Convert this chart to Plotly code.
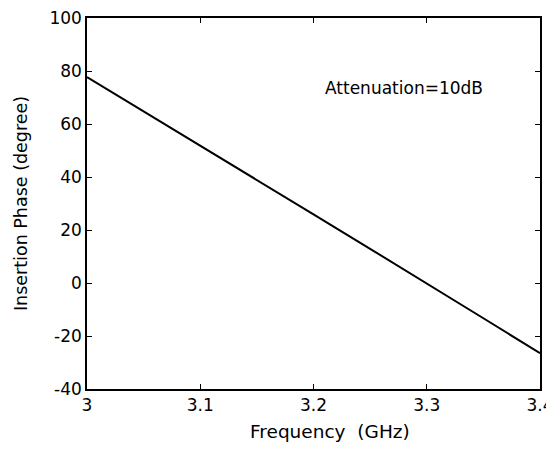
import plotly.graph_objects as go

freq = [3.00, 3.05, 3.10, 3.15, 3.20, 3.25, 3.30, 3.35, 3.40]
phase = [77.7, 64.8, 52.0, 39.0, 25.9, 12.9, -0.1, -13.3, -26.5]
x_ticks = [3, 3.1, 3.2, 3.3, 3.4]
x_tick_labels = ["3", "3.1", "3.2", "3.3", "3.4"]
y_ticks = [-40, -20, 0, 20, 40, 60, 80, 100]
y_tick_labels = ["-40", "-20", "0", "20", "40", "60", "80", "100"]

FONT = "DejaVu Sans, Liberation Sans, Arial"

fig = go.Figure()
fig.add_trace(go.Scatter(x=freq, y=phase, mode="lines",
                         line=dict(color="black", width=2), showlegend=False))

fig.add_annotation(x=3.28, y=73.5, text="Attenuation=10dB", showarrow=False,
                   font=dict(family=FONT, size=17, color="black"))

# x-axis title (placed as annotation to match the reference's offset)
fig.add_annotation(xref="paper", yref="paper", x=0.536, y=0, yanchor="middle",
                   yshift=-42, text="Frequency&nbsp;&nbsp;(GHz)", showarrow=False,
                   font=dict(family=FONT, size=18.5, color="black"))

axis_common = dict(showline=True, linecolor="black", linewidth=1.5, mirror="ticks",
                   ticks="inside", ticklen=5, tickcolor="black", tickwidth=1,
                   showgrid=False, zeroline=False, automargin=False,
                   ticklabeloverflow="allow",
                   tickfont=dict(family=FONT, size=17, color="black"))

fig.update_xaxes(range=[3, 3.4], tickvals=x_ticks, ticktext=x_tick_labels,
                 **axis_common)
fig.update_yaxes(range=[-40, 100], tickvals=y_ticks, ticktext=y_tick_labels,
                 title=dict(text="Insertion Phase (degree)", standoff=17,
                            font=dict(family=FONT, size=17.5, color="black")),
                 **axis_common)

fig.update_layout(width=546, height=436, margin=dict(l=79, r=14, t=10, b=55),
                  plot_bgcolor="white", paper_bgcolor="white")

fig.write_html("out.html")
